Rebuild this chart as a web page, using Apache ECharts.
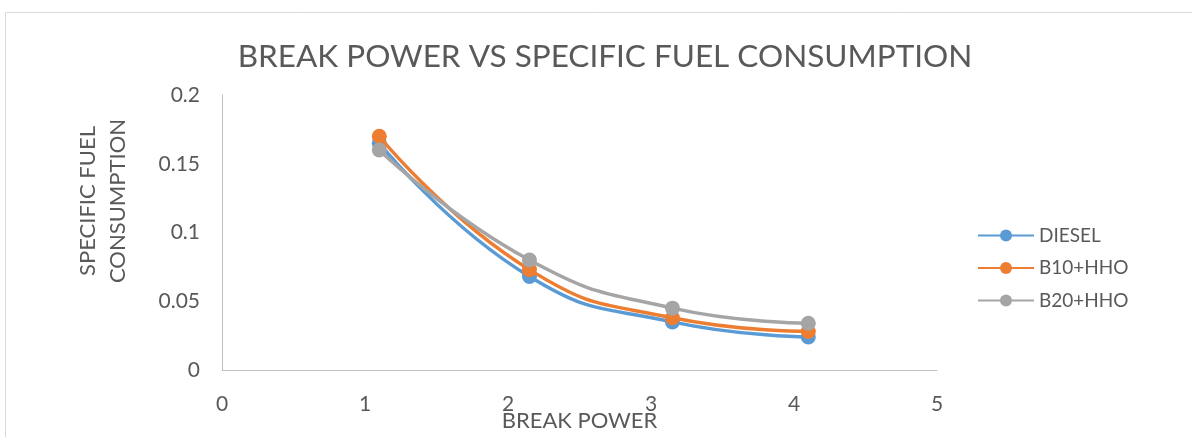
<!DOCTYPE html>
<html>
<head>
<meta charset="utf-8">
<script src="https://cdn.jsdelivr.net/npm/echarts@6/dist/echarts.min.js"></script>
<style>
html,body{margin:0;padding:0;background:#fff;}
#chart{width:1192px;height:437px;}
</style>
</head>
<body>
<div id="chart"></div>
<script>
const breakPower = [1.1, 2.15, 3.15, 4.1];
const diesel = [0.165, 0.068, 0.035, 0.024];
const b10hho = [0.170, 0.073, 0.038, 0.028];
const b20hho = [0.160, 0.080, 0.045, 0.034];
const seriesNames = ['DIESEL', 'B10+HHO', 'B20+HHO'];
const colors = ['#5B9BD5', '#ED7D31', '#A5A5A5'];

const font = 'Lato, "Open Sans", sans-serif';
const textColor = '#595959';

const toPairs = (ys) => breakPower.map((x, i) => [x, ys[i]]);
const allSeries = [diesel, b10hho, b20hho].map((ys, i) => ({
  name: seriesNames[i],
  type: 'line',
  smooth: 0.5,
  data: toPairs(ys),
  symbol: 'circle',
  symbolSize: 15,
  showSymbol: true,
  lineStyle: { width: 3.5, color: colors[i] },
  itemStyle: { color: colors[i] },
  z: 2 + i
}));

const chart = echarts.init(document.getElementById('chart'), null, { renderer: 'canvas' });
chart.setOption({
  backgroundColor: '#fff',
  animation: false,
  title: {
    text: 'BREAK POWER VS SPECIFIC FUEL CONSUMPTION',
    left: 600,
    textAlign: 'center',
    top: 36,
    textStyle: { fontFamily: font, fontSize: 31.5, fontWeight: 'normal', color: textColor }
  },
  legend: {
    orient: 'vertical',
    left: 972,
    top: 221,
    itemWidth: 56,
    itemHeight: 15,
    itemGap: 13.5,
    textStyle: { fontFamily: font, fontSize: 19, color: textColor },
    data: seriesNames
  },
  grid: { left: 222, right: 255, top: 95, bottom: 67, containLabel: false, outerBoundsMode: 'none' },
  xAxis: {
    type: 'value',
    min: 0, max: 5, interval: 1,
    name: 'BREAK POWER',
    nameLocation: 'middle',
    nameGap: 40,
    nameMoveOverlap: false,
    nameTextStyle: { fontFamily: font, fontSize: 22, color: textColor },
    axisLine: { show: true, lineStyle: { color: '#BFBFBF', width: 1 } },
    axisTick: { show: false },
    splitLine: { show: false },
    axisLabel: { fontFamily: font, fontSize: 21, color: textColor, margin: 24 }
  },
  yAxis: {
    type: 'value',
    min: 0, max: 0.2, interval: 0.05,
    axisLine: { show: true, lineStyle: { color: '#BFBFBF', width: 1 } },
    axisTick: { show: false },
    splitLine: { show: false },
    axisLabel: { fontFamily: font, fontSize: 21, color: textColor, margin: 22 }
  },
  graphic: [
    {
      type: 'rect',
      left: 3, top: 10,
      shape: { width: 1250, height: 500 },
      style: { fill: 'none', stroke: '#D9D9D9', lineWidth: 1 },
      silent: true, z: -1
    },
    {
      type: 'text',
      x: 103, y: 201,
      rotation: Math.PI / 2,
      style: {
        text: 'SPECIFIC FUEL\nCONSUMPTION',
        fontFamily: font, fontSize: 22, fill: textColor,
        align: 'center', verticalAlign: 'middle', lineHeight: 30
      }
    }
  ],
  series: allSeries
});
</script>
</body>
</html>
